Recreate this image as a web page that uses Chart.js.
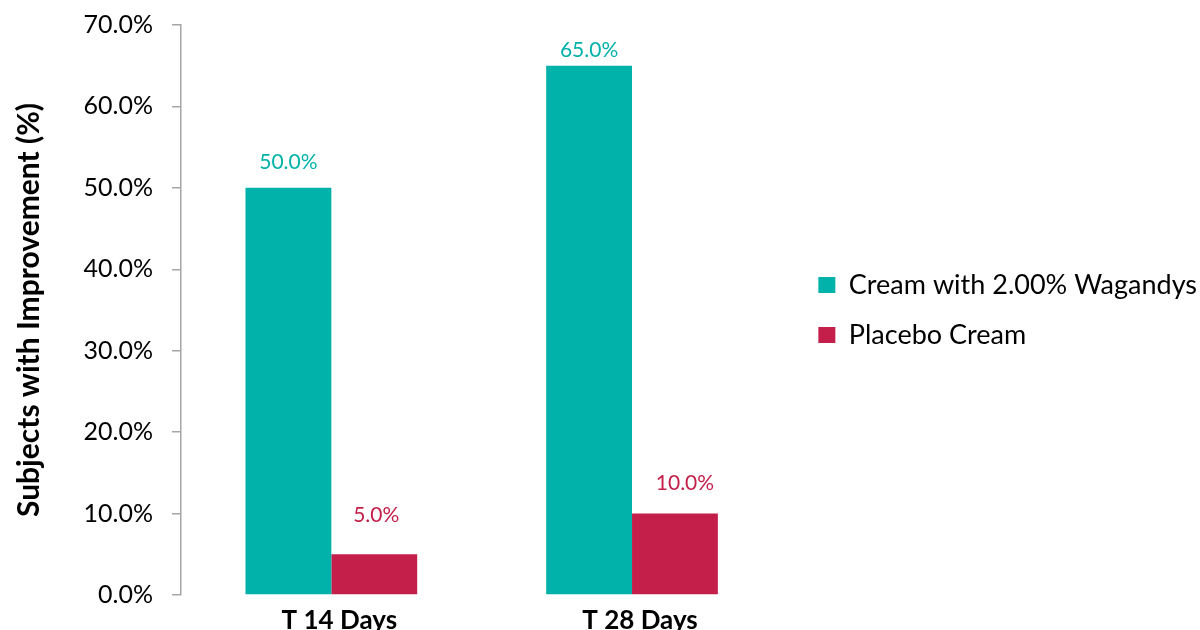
<!DOCTYPE html>
<html>
<head>
<meta charset="utf-8">
<script src="https://cdn.jsdelivr.net/npm/chart.js@4/dist/chart.umd.min.js"></script>
<style>
html,body{margin:0;padding:0;background:#fff;}
#wrap{width:1200px;height:630px;position:relative;}
</style>
</head>
<body>
<div id="wrap"><canvas id="c" width="1200" height="630"></canvas></div>
<script>
const categories = ['T 14 Days', 'T 28 Days'];
const seriesNames = ['Cream with 2.00% Wagandys', 'Placebo Cream'];
const creamValues = [50.0, 65.0];
const placeboValues = [5.0, 10.0];
const yTicks = [0, 10, 20, 30, 40, 50, 60, 70];

const TEAL = '#00B2A9';
const RED = '#C41F4A';
const AXIS = '#A6A6A6';
const FONT = 'Lato, "Open Sans", sans-serif';

const valueLabels = {
  id: 'valueLabels',
  afterDatasetsDraw(chart, args, opts) {
    const ctx = chart.ctx;
    ctx.save();
    ctx.font = opts.size + 'px ' + FONT;
    ctx.textAlign = 'center';
    ctx.textBaseline = 'alphabetic';
    chart.data.datasets.forEach((ds, di) => {
      const meta = chart.getDatasetMeta(di);
      ctx.fillStyle = ds.backgroundColor;
      meta.data.forEach((bar, i) => {
        const off = opts.offsets[di][i];
        ctx.fillText(ds.data[i].toFixed(1) + '%', bar.x + off[0], bar.y - off[1]);
      });
    });
    ctx.restore();
  }
};

new Chart(document.getElementById('c'), {
  type: 'bar',
  data: {
    labels: categories,
    datasets: [
      { label: seriesNames[0], data: creamValues, backgroundColor: TEAL, borderWidth: 0 },
      { label: seriesNames[1], data: placeboValues, backgroundColor: RED, borderWidth: 0 }
    ]
  },
  options: {
    responsive: false,
    animation: false,
    devicePixelRatio: 1,
    layout: { padding: { top: 25, left: 0, right: -7, bottom: 0 } },
    datasets: { bar: { categoryPercentage: 0.571, barPercentage: 1.0 } },
    scales: {
      x: {
        grid: { display: false, drawTicks: false },
        border: { display: false },
        ticks: { color: '#000', font: { family: FONT, size: 26, weight: 'bold' }, padding: 10, labelOffset: 8 },
        afterFit(s) { s.height = 35; }
      },
      y: {
        min: 0, max: 70,
        afterBuildTicks(s) { s.ticks = yTicks.map(v => ({ value: v })); },
        grid: { display: true, drawOnChartArea: false, drawTicks: true, tickLength: 9, color: AXIS, lineWidth: 1.5 },
        border: { display: true, color: AXIS, width: 1.5 },
        ticks: { color: '#000', font: { family: FONT, size: 25 }, padding: 19,
                 callback: v => Number(v).toFixed(1) + '%' },
        title: { display: true, text: 'Subjects with Improvement (%)', color: '#000',
                 font: { family: FONT, size: 30, weight: 'bold' }, padding: { top: 11, bottom: 0 } },
        afterFit(s) { s.width = 181; s.paddingTop = 0; s.paddingBottom = 0; }
      },
      yPad: {
        position: 'right', display: true,
        grid: { display: false }, border: { display: false }, ticks: { display: false },
        afterFit(s) { s.width = 13; s.paddingTop = 0; s.paddingBottom = 0; }
      }
    },
    plugins: {
      legend: {
        position: 'right',
        fullSize: false,
        maxWidth: 600,
        labels: { boxWidth: 17, boxHeight: 16, padding: 23, color: '#000',
                  font: { family: FONT, size: 27 } }
      },
      tooltip: { enabled: false },
      valueLabels: { size: 21, offsets: [[[0, 19], [0, 9]], [[2, 32], [10, 24]]] }
    }
  },
  plugins: [valueLabels]
});
</script>
</body>
</html>
